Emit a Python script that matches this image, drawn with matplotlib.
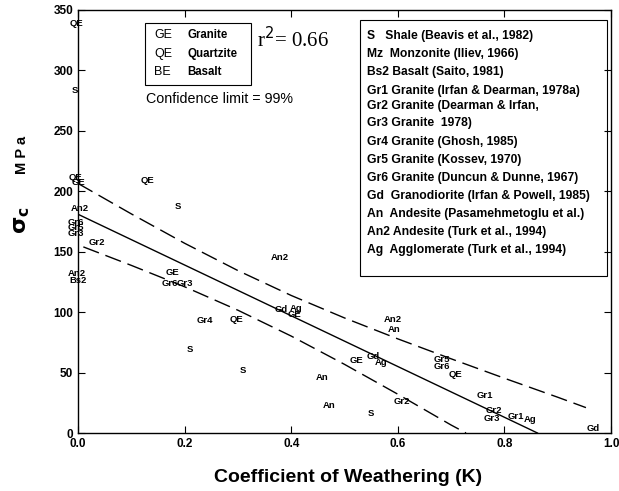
import matplotlib
matplotlib.use("Agg")
import matplotlib.pyplot as plt
from matplotlib.patches import Rectangle

plt.rcParams['font.family'] = ['Liberation Sans', 'DejaVu Sans']

# regression line and 99% confidence limits
fit_k = [0.0, 0.862]
fit_s = [181, 0]
upper_k = [0.0, 0.1, 0.2, 0.3, 0.4, 0.5, 0.6, 0.7, 0.8, 0.9, 0.953]
upper_s = [206.5, 181.3, 157.0, 134.4, 113.8, 95.2, 77.9, 61.4, 45.3, 29.6, 21]
lower_k = [0.01, 0.1, 0.2, 0.3, 0.4, 0.5, 0.6, 0.7, 0.728]
lower_s = [154, 138.7, 121.0, 101.6, 80.2, 56.8, 32.1, 6.6, 0]

# plotted symbols (rock type codes)
codes = ["QE", "S", "QE", "GE", "An2", "Gr6", "Gr5", "Gr3", "Gr2", "An2", "Bs2",
         "QE", "S", "GE", "Gr6", "Gr3", "Gr4", "QE", "S", "S", "An2",
         "Gd", "Ag", "GE", "An", "An", "GE", "Gd", "Ag", "S",
         "An2", "An", "Gr2", "Gr5", "Gr6", "QE", "Gr1", "Gr2", "Gr3",
         "Gr1", "Ag", "Gd"]
k_vals = [-0.002, -0.005, -0.004, 0.0, 0.004, -0.004, -0.004, -0.004, 0.036, -0.002, 0.0,
          0.131, 0.187, 0.178, 0.172, 0.2, 0.237, 0.297, 0.209, 0.309, 0.378,
          0.381, 0.409, 0.406, 0.458, 0.471, 0.523, 0.553, 0.568, 0.55,
          0.591, 0.593, 0.607, 0.682, 0.682, 0.708, 0.764, 0.78, 0.776,
          0.822, 0.849, 0.966]
s_vals = [339, 283, 211, 207, 186, 174, 170, 165, 158, 132, 126,
          209, 187, 133, 124, 124, 93, 94, 69, 52, 145,
          102, 103, 98, 46, 23, 60, 63, 58, 16.5,
          94, 86, 26, 61, 55, 48, 31, 19, 12,
          14, 11, 4]

legend1 = [("GE", "Granite"), ("QE", "Quartzite"), ("BE", "Basalt")]
legend2 = ["S   Shale (Beavis et al., 1982)",
           "Mz  Monzonite (Iliev, 1966)",
           "Bs2 Basalt (Saito, 1981)",
           "Gr1 Granite (Irfan & Dearman, 1978a)",
           "Gr2 Granite (Dearman & Irfan,",
           "Gr3 Granite  1978)",
           "Gr4 Granite (Ghosh, 1985)",
           "Gr5 Granite (Kossev, 1970)",
           "Gr6 Granite (Duncun & Dunne, 1967)",
           "Gd  Granodiorite (Irfan & Powell, 1985)",
           "An  Andesite (Pasamehmetoglu et al.)",
           "An2 Andesite (Turk et al., 1994)",
           "Ag  Agglomerate (Turk et al., 1994)"]
legend2_rows = [36, 54, 72, 91, 106, 123, 142, 160, 178, 196, 214, 232, 250]

W, H = 619, 491
fig = plt.figure(figsize=(W / 100, H / 100), dpi=100)
ax = fig.add_axes([78 / W, 1 - 433 / H, 533 / W, 423 / H])


def fx(px):
    return px / W


def fy(py):
    return 1 - py / H


ax.plot(fit_k, fit_s, color='black', lw=1.0)
ax.plot(upper_k, upper_s, color='black', lw=1.0, dashes=(12, 5))
ax.plot(lower_k, lower_s, color='black', lw=1.0, dashes=(12, 5))

for c, kk, ss in zip(codes, k_vals, s_vals):
    ax.text(kk, ss, c, fontsize=6.8, fontweight='bold', ha='center', va='center',
            clip_on=False)

ax.set_xlim(0, 1.0)
ax.set_ylim(0, 350)
ax.set_xticks([0.0, 0.2, 0.4, 0.6, 0.8, 1.0])
ax.set_xticklabels(["0.0", "0.2", "0.4", "0.6", "0.8", "1.0"])
ax.set_yticks([0, 50, 100, 150, 200, 250, 300, 350])
ax.tick_params(direction='in', length=5, width=0.8, top=True, right=True,
               labelsize=8.5)
for lab in ax.get_xticklabels() + ax.get_yticklabels():
    lab.set_fontweight('bold')
for sp in ax.spines.values():
    sp.set_linewidth(1.0)

# axis titles
fig.text(fx(348), fy(477), "Coefficient of Weathering (K)", fontsize=14,
         fontweight='bold', ha='center', va='center')
fig.text(fx(22), fy(155), "M P a", fontsize=10.5, fontweight='bold',
         rotation=90, ha='center', va='center')
fig.text(fx(22), fy(220), r"$\mathbf{\sigma_c}$", fontsize=16,
         rotation=90, ha='center', va='center')

# legend box 1
fig.patches.append(Rectangle((fx(145), fy(85)), fx(251) - fx(145), fy(23) - fy(85),
                             transform=fig.transFigure, fill=False, lw=0.8,
                             edgecolor='black'))
for i, (c, name) in enumerate(legend1):
    y = fy(35 + i * 18.5)
    fig.text(fx(154), y, c, fontsize=9, ha='left', va='center')
    fig.text(fx(187), y, name, fontsize=8.3, fontweight='bold', ha='left', va='center')
fig.text(fx(257), fy(40), r"r$^2$= 0.66", fontsize=15, family='Liberation Serif',
         ha='left', va='center')
fig.text(fx(146), fy(99), "Confidence limit = 99%", fontsize=10.3, ha='left',
         va='center')

# legend box 2
fig.patches.append(Rectangle((fx(360), fy(276)), fx(607) - fx(360), fy(20) - fy(276),
                             transform=fig.transFigure, fill=False, lw=0.8,
                             edgecolor='black', facecolor='white'))
for txt, row in zip(legend2, legend2_rows):
    fig.text(fx(367), fy(row), txt, fontsize=8.7, fontweight='bold', ha='left',
             va='center')

fig.savefig("out.png", dpi=100)
